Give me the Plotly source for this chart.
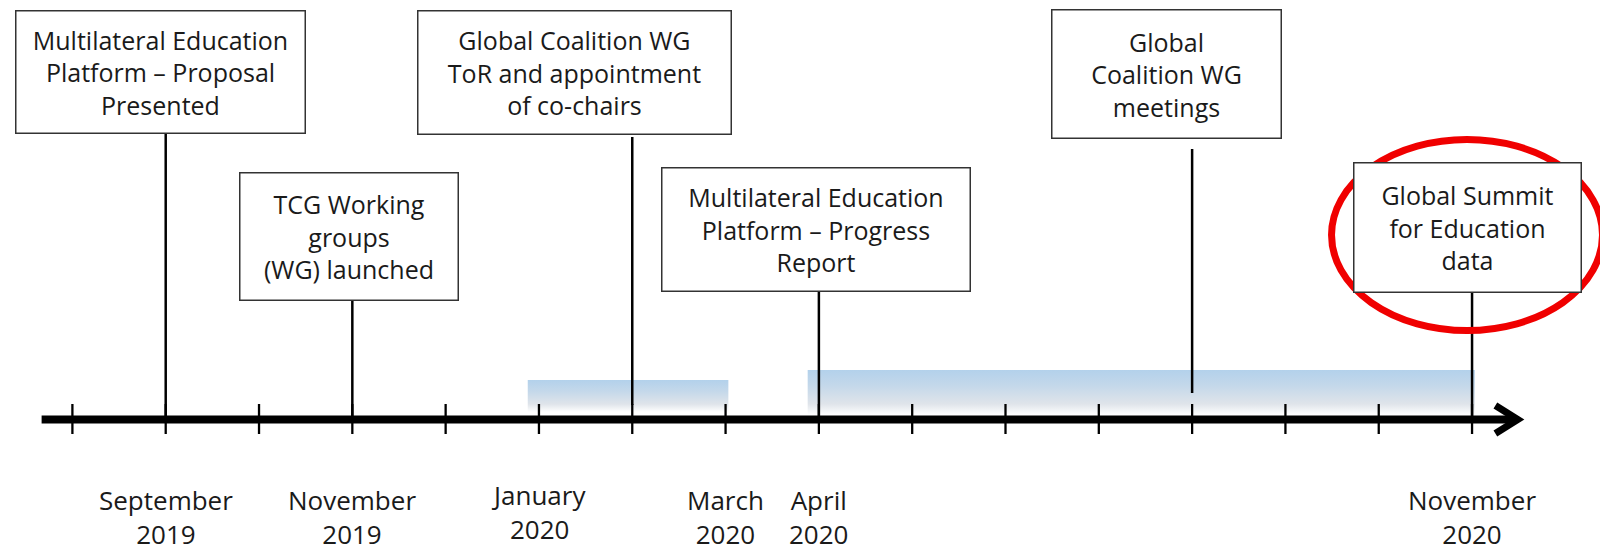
import plotly.graph_objects as go

# ---------------- data ----------------
months = ["Aug 2019", "Sep 2019", "Oct 2019", "Nov 2019", "Dec 2019", "Jan 2020",
          "Feb 2020", "Mar 2020", "Apr 2020", "May 2020", "Jun 2020", "Jul 2020",
          "Aug 2020", "Sep 2020", "Oct 2020", "Nov 2020"]

event_months = ["Sep 2019", "Nov 2019", "Feb 2020", "Apr 2020", "Aug 2020", "Nov 2020"]
event_texts = [
    "Multilateral Education<br>Platform – Proposal<br>Presented",
    "TCG Working<br>groups<br>(WG) launched",
    "Global Coalition WG<br>ToR and appointment<br>of co-chairs",
    "Multilateral Education<br>Platform – Progress<br>Report",
    "Global<br>Coalition WG<br>meetings",
    "Global Summit<br>for Education<br>data",
]
highlighted_event = "Nov 2020"

period_starts = ["Jan 2020", "Apr 2020"]
period_ends = ["Mar 2020", "Nov 2020"]

label_months = ["Sep 2019", "Nov 2019", "Jan 2020", "Mar 2020", "Apr 2020", "Nov 2020"]
label_texts = ["September<br>2019", "November<br>2019", "January<br>2020",
               "March<br>2020", "April<br>2020", "November<br>2020"]

# ---------------- layout helpers (positions / styles) ----------------
idx = {m: i for i, m in enumerate(months)}
FONT = "Open Sans, Noto Sans, DejaVu Sans, sans-serif"
AXIS_Y = 419.5
PAGE_OFF = 8          # default body margin of the html page
W, H = 1608 - PAGE_OFF, 546 - PAGE_OFF
PX0, PX_PER_MONTH = 72.4, 93.31   # page pixel of first month, pixels per month

# per event: (box x offset in months, box centre y, box w, box h, connector top, connector bottom)
BOX = [
    (-0.06, 71.5, 290, 123, 133, AXIS_Y),
    (-0.04, 236, 219, 128, 300, AXIS_Y),
    (-0.62, 72, 314, 124, 137, 405),
    (-0.03, 229, 309, 124, 291, AXIS_Y),
    (-0.27, 73.5, 230, 129, 149, 393),
    (-0.054, 227, 228, 130, 292, AXIS_Y),
]
PERIOD_Y = [(380, 412), (370, 415)]

fig = go.Figure()

# shaded periods
for (s, e), (yt, yb) in zip(zip(period_starts, period_ends), PERIOD_Y):
    x0 = idx[s] - 0.12
    x1 = idx[e] + 0.03
    fig.add_trace(go.Scatter(
        x=[x0, x1, x1, x0, x0], y=[yt, yt, yb, yb, yt],
        fill="toself", mode="lines", line=dict(width=0),
        fillgradient=dict(type="vertical",
                          colorscale=[[0, "#b3d1eb"], [0.35, "#c4d8ea"],
                                      [0.75, "#dfe4ea"], [1, "#ffffff"]],
                          start=yt, stop=yb),
        hoverinfo="skip", showlegend=False))

# main axis line
fig.add_trace(go.Scatter(
    x=[-0.33, idx[months[-1]] + 0.45], y=[AXIS_Y, AXIS_Y], mode="lines",
    line=dict(color="black", width=8), hoverinfo="skip", showlegend=False))
# arrow head
tip = idx[months[-1]] + 0.49
fig.add_trace(go.Scatter(
    x=[tip - 0.24, tip, tip - 0.24], y=[AXIS_Y - 14, AXIS_Y, AXIS_Y + 14], mode="lines",
    line=dict(color="black", width=7), hoverinfo="skip", showlegend=False))

# month ticks
tx, ty = [], []
for m in months:
    tx += [idx[m], idx[m], None]
    ty += [404, 434, None]
fig.add_trace(go.Scatter(x=tx, y=ty, mode="lines", line=dict(color="black", width=2.3),
                         hoverinfo="skip", showlegend=False))

# connectors
cx, cy = [], []
for m, b in zip(event_months, BOX):
    cx += [idx[m], idx[m], None]
    cy += [b[4], b[5], None]
fig.add_trace(go.Scatter(x=cx, y=cy, mode="lines", line=dict(color="black", width=2.5),
                         hoverinfo="skip", showlegend=False))

# event boxes
for m, t, b in zip(event_months, event_texts, BOX):
    fig.add_annotation(
        x=idx[m] + b[0], y=b[1], xref="x", yref="y", text=t, showarrow=False,
        xanchor="center", yanchor="middle", width=b[2] - 2, height=b[3] - 2,
        align="center", valign="middle", bgcolor="white", bordercolor="#333333",
        borderwidth=1.5, borderpad=0,
        font=dict(family=FONT, size=25, color="#1a1a1a"))

# highlight ellipse
hc = idx[highlighted_event] - 0.054
fig.add_shape(type="circle", xref="x", yref="y", x0=hc - 1.452, x1=hc + 1.452,
              y0=139.5, y1=330.5, line=dict(color="#f00000", width=7), layer="above")

# date labels
for m, t in zip(label_months, label_texts):
    fig.add_annotation(
        x=idx[m], y=516.5 if m != "Jan 2020" else 511.5, xref="x", yref="y", text=t,
        showarrow=False, xanchor="center", yanchor="middle", align="center",
        font=dict(family=FONT, size=26, color="#1a1a1a"))

x_lo = (0 - (PX0 - PAGE_OFF)) / PX_PER_MONTH
x_hi = (W - (PX0 - PAGE_OFF)) / PX_PER_MONTH

fig.update_layout(
    width=W, height=H, margin=dict(l=0, r=0, t=0, b=0),
    paper_bgcolor="white", plot_bgcolor="white", showlegend=False,
    xaxis=dict(visible=False, range=[x_lo, x_hi], fixedrange=True),
    yaxis=dict(visible=False, range=[546, PAGE_OFF], fixedrange=True),
)

fig.write_html("out.html")
